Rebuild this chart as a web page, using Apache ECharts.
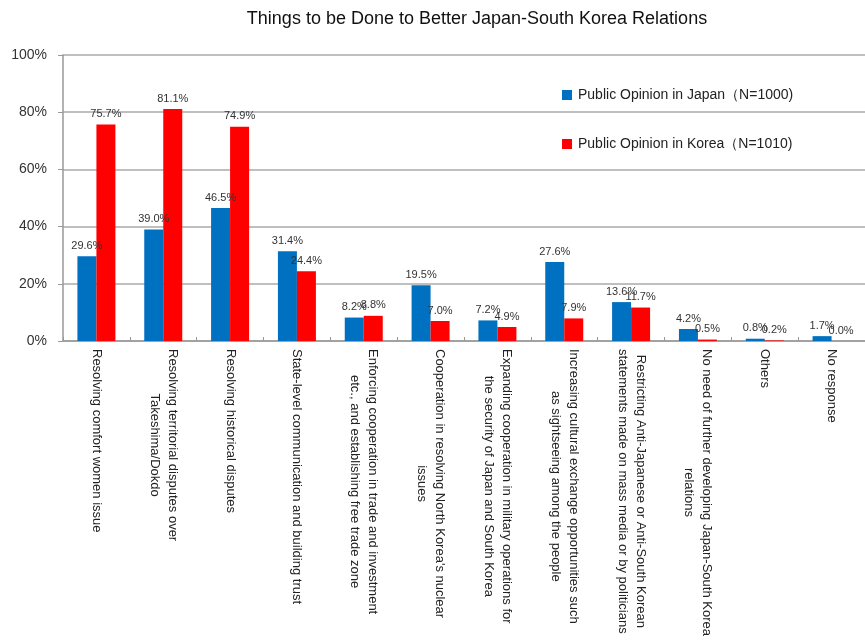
<!DOCTYPE html>
<html>
<head>
<meta charset="utf-8">
<script src="https://cdn.jsdelivr.net/npm/echarts@6/dist/echarts.min.js"></script>
<style>html,body{margin:0;padding:0;background:#fff;}#c{width:865px;height:640px;}</style>
</head>
<body>
<div id="c"></div>
<script>
const categories = [
  "Resolving comfort women issue",
  "Resolving territorial disputes over\nTakeshima/Dokdo",
  "Resolving historical disputes",
  "State-level communication and building trust",
  "Enforcing cooperation in trade and investment\netc., and establishing free trade zone",
  "Cooperation in resolving North Korea's nuclear\nissues",
  "Expanding cooperation in military operations for\nthe security of Japan and South Korea",
  "Increasing cultural exchange opportunities such\nas sightseeing among the people",
  "Restricting Anti-Japanese or Anti-South Korean\nstatements made on mass media or by politicians",
  "No need of further developing Japan-South Korea\nrelations",
  "Others",
  "No response"
];
const japanValues = [29.6, 39.0, 46.5, 31.4, 8.2, 19.5, 7.2, 27.6, 13.6, 4.2, 0.8, 1.7];
const koreaValues = [75.7, 81.1, 74.9, 24.4, 8.8, 7.0, 4.9, 7.9, 11.7, 0.5, 0.2, 0.0];
const seriesNames = ["Public Opinion in Japan（N=1000)", "Public Opinion in Korea（N=1010)"];
const yTicks = [0, 20, 40, 60, 80, 100];

const font = '"Liberation Sans", Arial, sans-serif';
const catFontSize = 13;
// Build centered multi-line labels: a spacer token before each line
const ctx = document.createElement('canvas').getContext('2d');
ctx.font = catFontSize + 'px ' + font;
const rich = { t: { fontSize: catFontSize, lineHeight: 18, color: '#222', fontFamily: font } };
const labelText = {};
categories.forEach((c, i) => {
  const lines = c.split('\n');
  const widths = lines.map(l => ctx.measureText(l).width);
  const maxW = Math.max(...widths);
  labelText[c] = lines.map((l, j) => {
    const pad = (maxW - widths[j]) / 2;
    if (pad < 0.5) return '{t|' + l + '}';
    const key = 'p' + i + '_' + j;
    rich[key] = { width: pad, height: 1, lineHeight: 18 };
    return '{' + key + '|}{t|' + l + '}';
  }).join('\n');
});

const chart = echarts.init(document.getElementById('c'));
const labelCfg = {
  show: true, position: 'top', distance: 5,
  color: '#333', fontSize: 11, fontFamily: font,
  formatter: p => p.value.toFixed(1) + '%'
};
chart.setOption({
  backgroundColor: '#fff',
  animation: false,
  title: {
    text: 'Things to be Done to Better Japan-South Korea Relations',
    left: 472, top: 5, textAlign: 'center',
    textStyle: { fontSize: 18, fontWeight: 'normal', color: '#111', fontFamily: font }
  },
  legend: {
    orient: 'vertical', left: 557, top: 83, itemGap: 35,
    itemWidth: 10, itemHeight: 10, icon: 'rect',
    textStyle: { fontSize: 14, color: '#222', fontFamily: font, padding: [0, 0, 0, 1] },
    data: seriesNames
  },
  grid: { left: 63, right: 0, top: 55, bottom: 299, containLabel: false },
  xAxis: {
    type: 'category', data: categories,
    axisLine: { lineStyle: { color: '#999', width: 1.5 } },
    axisTick: { show: true, inside: true, length: 4, lineStyle: { color: '#999' } },
    axisLabel: {
      interval: 0, rotate: -90, margin: 8,
      fontSize: catFontSize, lineHeight: 18, color: '#222', fontFamily: font,
      formatter: v => labelText[v],
      rich: rich
    }
  },
  yAxis: {
    type: 'value', min: yTicks[0], max: yTicks[yTicks.length - 1], interval: 20,
    axisLine: { show: true, lineStyle: { color: '#999', width: 1.5 } },
    axisTick: { show: true, length: 5, lineStyle: { color: '#999' } },
    splitLine: { lineStyle: { color: '#aaa', width: 1.5 } },
    axisLabel: { formatter: '{value}%', fontSize: 14, color: '#333', fontFamily: font, margin: 16 }
  },
  series: [
    { name: seriesNames[0], type: 'bar', data: japanValues, barWidth: 19, barGap: '0%',
      itemStyle: { color: '#0070C0' }, label: labelCfg },
    { name: seriesNames[1], type: 'bar', data: koreaValues, barWidth: 19,
      itemStyle: { color: '#FF0000' }, label: labelCfg }
  ]
});
</script>
</body>
</html>
